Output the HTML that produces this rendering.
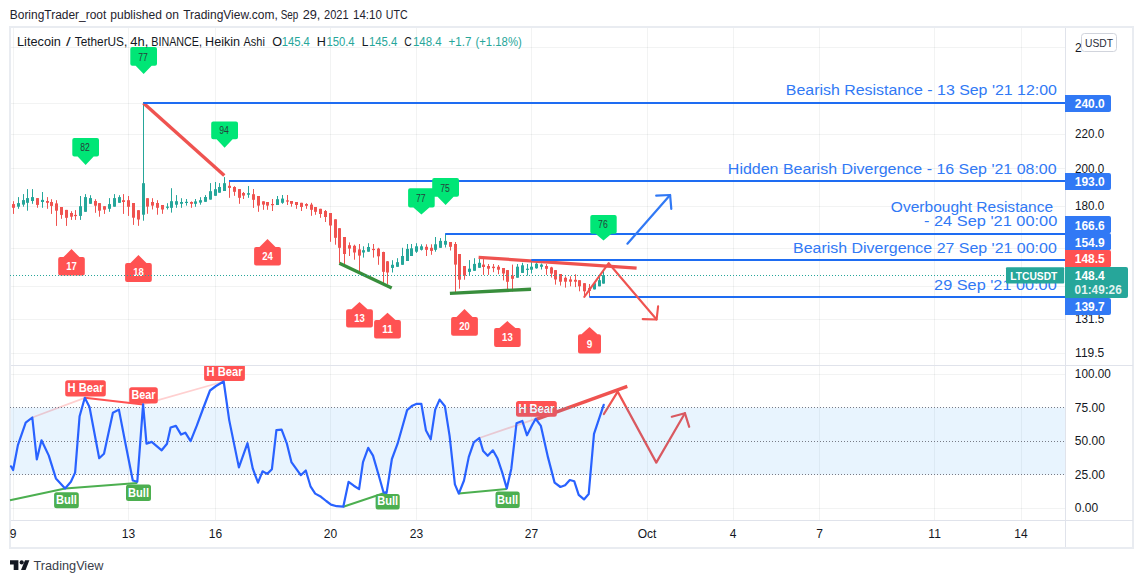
<!DOCTYPE html>
<html><head><meta charset="utf-8"><style>
html,body{margin:0;padding:0;background:#fff;width:1143px;height:583px;overflow:hidden}
svg{display:block;font-family:"Liberation Sans", sans-serif}
</style></head><body>
<svg width="1143" height="583" viewBox="0 0 1143 583">
<rect x="0" y="0" width="1143" height="583" fill="#fff"/>
<line x1="13.5" y1="28" x2="13.5" y2="520" stroke="rgba(42,57,57,0.06)" stroke-width="1" />
<line x1="128.5" y1="28" x2="128.5" y2="520" stroke="rgba(42,57,57,0.06)" stroke-width="1" />
<line x1="215.5" y1="28" x2="215.5" y2="520" stroke="rgba(42,57,57,0.06)" stroke-width="1" />
<line x1="330.5" y1="28" x2="330.5" y2="520" stroke="rgba(42,57,57,0.06)" stroke-width="1" />
<line x1="416.5" y1="28" x2="416.5" y2="520" stroke="rgba(42,57,57,0.06)" stroke-width="1" />
<line x1="531.5" y1="28" x2="531.5" y2="520" stroke="rgba(42,57,57,0.06)" stroke-width="1" />
<line x1="647.5" y1="28" x2="647.5" y2="520" stroke="rgba(42,57,57,0.06)" stroke-width="1" />
<line x1="733.5" y1="28" x2="733.5" y2="520" stroke="rgba(42,57,57,0.06)" stroke-width="1" />
<line x1="819.5" y1="28" x2="819.5" y2="520" stroke="rgba(42,57,57,0.06)" stroke-width="1" />
<line x1="934.5" y1="28" x2="934.5" y2="520" stroke="rgba(42,57,57,0.06)" stroke-width="1" />
<line x1="1021.5" y1="28" x2="1021.5" y2="520" stroke="rgba(42,57,57,0.06)" stroke-width="1" />
<line x1="11" y1="47.5" x2="1065" y2="47.5" stroke="rgba(42,57,57,0.06)" stroke-width="1" />
<line x1="11" y1="103.5" x2="1065" y2="103.5" stroke="rgba(42,57,57,0.06)" stroke-width="1" />
<line x1="11" y1="134.5" x2="1065" y2="134.5" stroke="rgba(42,57,57,0.06)" stroke-width="1" />
<line x1="11" y1="168.5" x2="1065" y2="168.5" stroke="rgba(42,57,57,0.06)" stroke-width="1" />
<line x1="11" y1="206.5" x2="1065" y2="206.5" stroke="rgba(42,57,57,0.06)" stroke-width="1" />
<line x1="11" y1="248.5" x2="1065" y2="248.5" stroke="rgba(42,57,57,0.06)" stroke-width="1" />
<line x1="11" y1="286.5" x2="1065" y2="286.5" stroke="rgba(42,57,57,0.06)" stroke-width="1" />
<line x1="11" y1="319.5" x2="1065" y2="319.5" stroke="rgba(42,57,57,0.06)" stroke-width="1" />
<line x1="11" y1="353.5" x2="1065" y2="353.5" stroke="rgba(42,57,57,0.06)" stroke-width="1" />
<line x1="11" y1="374.5" x2="1065" y2="374.5" stroke="rgba(42,57,57,0.06)" stroke-width="1" />
<line x1="11" y1="508.5" x2="1065" y2="508.5" stroke="rgba(42,57,57,0.06)" stroke-width="1" />
<rect x="10" y="27" width="1123" height="521" fill="none" stroke="#e9ecf1" stroke-width="2"/>
<line x1="1065.5" y1="28" x2="1065.5" y2="547" stroke="#e0e3eb" stroke-width="1" />
<line x1="11" y1="365.5" x2="1133" y2="365.5" stroke="#e0e3eb" stroke-width="1" />
<line x1="11" y1="520.5" x2="1133" y2="520.5" stroke="#e0e3eb" stroke-width="1" />
<text x="9.81" y="19" font-size="12" fill="#1e222d" text-anchor="start" textLength="96.43" lengthAdjust="spacingAndGlyphs" >BoringTrader_root</text>
<text x="110.25" y="19" font-size="12" fill="#1e222d" text-anchor="start" textLength="51.58" lengthAdjust="spacingAndGlyphs" >published</text>
<text x="165.6" y="19" font-size="12" fill="#1e222d" text-anchor="start" textLength="13.41" lengthAdjust="spacingAndGlyphs" >on</text>
<text x="183.15" y="19" font-size="12" fill="#1e222d" text-anchor="start" textLength="94.62" lengthAdjust="spacingAndGlyphs" >TradingView.com,</text>
<text x="280.69" y="19" font-size="12" fill="#1e222d" text-anchor="start" textLength="17.61" lengthAdjust="spacingAndGlyphs" >Sep</text>
<text x="302.67" y="19" font-size="12" fill="#1e222d" text-anchor="start" textLength="17.73" lengthAdjust="spacingAndGlyphs" >29,</text>
<text x="324.04" y="19" font-size="12" fill="#1e222d" text-anchor="start" textLength="24.58" lengthAdjust="spacingAndGlyphs" >2021</text>
<text x="352.98" y="19" font-size="12" fill="#1e222d" text-anchor="start" textLength="28.89" lengthAdjust="spacingAndGlyphs" >14:10</text>
<text x="385.84" y="19" font-size="12" fill="#1e222d" text-anchor="start" textLength="21.84" lengthAdjust="spacingAndGlyphs" >UTC</text>
<rect x="13.0" y="201.2" width="1" height="12.7" fill="#ef5350"/>
<rect x="12.0" y="204.1" width="3" height="3.7" fill="#ef5350"/>
<rect x="18.0" y="197.1" width="1" height="11.7" fill="#26a69a"/>
<rect x="17.0" y="203.1" width="3" height="3.6" fill="#26a69a"/>
<rect x="23.0" y="194.1" width="1" height="12.6" fill="#26a69a"/>
<rect x="22.0" y="200.1" width="3" height="4.5" fill="#26a69a"/>
<rect x="27.0" y="189.1" width="1" height="21.6" fill="#26a69a"/>
<rect x="26.0" y="198.1" width="3" height="4.7" fill="#26a69a"/>
<rect x="32.0" y="189.1" width="1" height="14.7" fill="#26a69a"/>
<rect x="31.0" y="197.1" width="3" height="3.9" fill="#26a69a"/>
<rect x="37.0" y="198.1" width="1" height="9.7" fill="#ef5350"/>
<rect x="36.0" y="198.1" width="3" height="6.8" fill="#ef5350"/>
<rect x="42.0" y="192.0" width="1" height="15.8" fill="#26a69a"/>
<rect x="41.0" y="199.9" width="3" height="2.1" fill="#26a69a"/>
<rect x="47.0" y="197.1" width="1" height="11.7" fill="#ef5350"/>
<rect x="46.0" y="201.0" width="3" height="1.8" fill="#ef5350"/>
<rect x="51.0" y="199.2" width="1" height="14.7" fill="#ef5350"/>
<rect x="50.0" y="202.0" width="3" height="3.9" fill="#ef5350"/>
<rect x="56.0" y="200.2" width="1" height="25.7" fill="#ef5350"/>
<rect x="55.0" y="203.4" width="3" height="7.3" fill="#ef5350"/>
<rect x="61.0" y="207.0" width="1" height="11.8" fill="#ef5350"/>
<rect x="60.0" y="207.0" width="3" height="7.9" fill="#ef5350"/>
<rect x="66.0" y="209.9" width="1" height="16.0" fill="#ef5350"/>
<rect x="65.0" y="209.9" width="3" height="7.9" fill="#ef5350"/>
<rect x="71.0" y="211.2" width="1" height="8.7" fill="#ef5350"/>
<rect x="70.0" y="213.0" width="3" height="3.7" fill="#ef5350"/>
<rect x="75.0" y="210.1" width="1" height="9.8" fill="#ef5350"/>
<rect x="74.0" y="214.9" width="3" height="1.2" fill="#ef5350"/>
<rect x="80.0" y="196.0" width="1" height="23.9" fill="#26a69a"/>
<rect x="79.0" y="206.2" width="3" height="9.7" fill="#26a69a"/>
<rect x="85.0" y="194.1" width="1" height="17.7" fill="#26a69a"/>
<rect x="84.0" y="197.1" width="3" height="14.7" fill="#26a69a"/>
<rect x="90.0" y="195.2" width="1" height="8.6" fill="#26a69a"/>
<rect x="89.0" y="198.1" width="3" height="5.7" fill="#26a69a"/>
<rect x="95.0" y="199.2" width="1" height="13.6" fill="#ef5350"/>
<rect x="94.0" y="201.0" width="3" height="4.7" fill="#ef5350"/>
<rect x="99.0" y="203.1" width="1" height="13.6" fill="#ef5350"/>
<rect x="98.0" y="203.1" width="3" height="7.6" fill="#ef5350"/>
<rect x="104.0" y="206.2" width="1" height="7.7" fill="#ef5350"/>
<rect x="103.0" y="206.2" width="3" height="3.5" fill="#ef5350"/>
<rect x="109.0" y="198.1" width="1" height="13.7" fill="#26a69a"/>
<rect x="108.0" y="204.1" width="3" height="4.7" fill="#26a69a"/>
<rect x="114.0" y="194.1" width="1" height="12.6" fill="#26a69a"/>
<rect x="113.0" y="198.1" width="3" height="8.6" fill="#26a69a"/>
<rect x="119.0" y="195.2" width="1" height="7.6" fill="#26a69a"/>
<rect x="118.0" y="197.1" width="3" height="5.7" fill="#26a69a"/>
<rect x="123.0" y="194.1" width="1" height="19.8" fill="#ef5350"/>
<rect x="122.0" y="200.2" width="3" height="1.8" fill="#ef5350"/>
<rect x="128.0" y="196.0" width="1" height="19.9" fill="#ef5350"/>
<rect x="127.0" y="200.2" width="3" height="6.6" fill="#ef5350"/>
<rect x="133.0" y="203.0" width="1" height="21.9" fill="#ef5350"/>
<rect x="132.0" y="203.0" width="3" height="14.7" fill="#ef5350"/>
<rect x="138.0" y="210.2" width="1" height="15.6" fill="#ef5350"/>
<rect x="137.0" y="210.2" width="3" height="9.3" fill="#ef5350"/>
<rect x="143.0" y="102.0" width="1" height="118.7" fill="#26a69a"/>
<rect x="142.0" y="183.2" width="3" height="31.5" fill="#26a69a"/>
<rect x="147.0" y="198.2" width="1" height="15.6" fill="#ef5350"/>
<rect x="146.0" y="198.2" width="3" height="8.4" fill="#ef5350"/>
<rect x="152.0" y="198.2" width="1" height="11.3" fill="#ef5350"/>
<rect x="151.0" y="202.0" width="3" height="3.6" fill="#ef5350"/>
<rect x="157.0" y="200.2" width="1" height="14.5" fill="#ef5350"/>
<rect x="156.0" y="203.0" width="3" height="4.8" fill="#ef5350"/>
<rect x="162.0" y="205.0" width="1" height="8.8" fill="#ef5350"/>
<rect x="161.0" y="205.0" width="3" height="4.5" fill="#ef5350"/>
<rect x="167.0" y="203.2" width="1" height="6.3" fill="#26a69a"/>
<rect x="166.0" y="206.6" width="3" height="1.2" fill="#26a69a"/>
<rect x="171.0" y="188.2" width="1" height="24.4" fill="#26a69a"/>
<rect x="170.0" y="201.2" width="3" height="6.6" fill="#26a69a"/>
<rect x="176.0" y="195.1" width="1" height="12.7" fill="#26a69a"/>
<rect x="175.0" y="201.2" width="3" height="3.5" fill="#26a69a"/>
<rect x="181.0" y="198.2" width="1" height="9.6" fill="#26a69a"/>
<rect x="180.0" y="202.0" width="3" height="1.8" fill="#26a69a"/>
<rect x="186.0" y="199.0" width="1" height="6.6" fill="#26a69a"/>
<rect x="185.0" y="201.8" width="3" height="1.2" fill="#26a69a"/>
<rect x="191.0" y="201.4" width="1" height="6.4" fill="#ef5350"/>
<rect x="190.0" y="202.0" width="3" height="1.8" fill="#ef5350"/>
<rect x="195.0" y="199.0" width="1" height="7.8" fill="#26a69a"/>
<rect x="194.0" y="201.4" width="3" height="2.4" fill="#26a69a"/>
<rect x="200.0" y="197.2" width="1" height="7.5" fill="#26a69a"/>
<rect x="199.0" y="200.2" width="3" height="2.4" fill="#26a69a"/>
<rect x="205.0" y="195.1" width="1" height="6.7" fill="#26a69a"/>
<rect x="204.0" y="197.0" width="3" height="4.8" fill="#26a69a"/>
<rect x="210.0" y="183.1" width="1" height="16.5" fill="#26a69a"/>
<rect x="209.0" y="191.2" width="3" height="8.4" fill="#26a69a"/>
<rect x="215.0" y="182.0" width="1" height="13.8" fill="#26a69a"/>
<rect x="214.0" y="189.2" width="3" height="6.6" fill="#26a69a"/>
<rect x="219.0" y="183.1" width="1" height="9.6" fill="#26a69a"/>
<rect x="218.0" y="187.0" width="3" height="5.7" fill="#26a69a"/>
<rect x="224.0" y="177.1" width="1" height="13.9" fill="#26a69a"/>
<rect x="223.0" y="183.2" width="3" height="7.8" fill="#26a69a"/>
<rect x="229.0" y="181.0" width="1" height="16.8" fill="#ef5350"/>
<rect x="228.0" y="185.8" width="3" height="2.1" fill="#ef5350"/>
<rect x="234.0" y="186.2" width="1" height="9.6" fill="#ef5350"/>
<rect x="233.0" y="187.0" width="3" height="4.8" fill="#ef5350"/>
<rect x="239.0" y="189.1" width="1" height="14.7" fill="#ef5350"/>
<rect x="238.0" y="189.1" width="3" height="8.7" fill="#ef5350"/>
<rect x="243.0" y="192.0" width="1" height="7.0" fill="#ef5350"/>
<rect x="242.0" y="193.0" width="3" height="2.6" fill="#ef5350"/>
<rect x="248.0" y="186.0" width="1" height="11.8" fill="#26a69a"/>
<rect x="247.0" y="193.2" width="3" height="1.5" fill="#26a69a"/>
<rect x="253.0" y="189.0" width="1" height="18.9" fill="#ef5350"/>
<rect x="252.0" y="194.2" width="3" height="5.6" fill="#ef5350"/>
<rect x="258.0" y="196.0" width="1" height="15.8" fill="#ef5350"/>
<rect x="257.0" y="196.0" width="3" height="9.6" fill="#ef5350"/>
<rect x="263.0" y="201.3" width="1" height="8.5" fill="#ef5350"/>
<rect x="262.0" y="201.3" width="3" height="3.3" fill="#ef5350"/>
<rect x="267.0" y="202.0" width="1" height="7.8" fill="#ef5350"/>
<rect x="266.0" y="202.0" width="3" height="3.6" fill="#ef5350"/>
<rect x="272.0" y="199.0" width="1" height="12.0" fill="#ef5350"/>
<rect x="271.0" y="204.0" width="3" height="1.2" fill="#ef5350"/>
<rect x="277.0" y="196.0" width="1" height="9.0" fill="#26a69a"/>
<rect x="276.0" y="199.2" width="3" height="5.8" fill="#26a69a"/>
<rect x="282.0" y="195.0" width="1" height="8.8" fill="#26a69a"/>
<rect x="281.0" y="198.6" width="3" height="4.2" fill="#26a69a"/>
<rect x="287.0" y="195.0" width="1" height="10.0" fill="#ef5350"/>
<rect x="286.0" y="200.4" width="3" height="1.2" fill="#ef5350"/>
<rect x="291.0" y="201.0" width="1" height="5.7" fill="#ef5350"/>
<rect x="290.0" y="201.0" width="3" height="2.8" fill="#ef5350"/>
<rect x="296.0" y="202.0" width="1" height="6.8" fill="#ef5350"/>
<rect x="295.0" y="202.0" width="3" height="3.0" fill="#ef5350"/>
<rect x="301.0" y="202.8" width="1" height="8.2" fill="#ef5350"/>
<rect x="300.0" y="202.8" width="3" height="4.2" fill="#ef5350"/>
<rect x="306.0" y="203.2" width="1" height="5.6" fill="#ef5350"/>
<rect x="305.0" y="204.0" width="3" height="1.8" fill="#ef5350"/>
<rect x="311.0" y="202.8" width="1" height="13.0" fill="#ef5350"/>
<rect x="310.0" y="204.6" width="3" height="5.2" fill="#ef5350"/>
<rect x="315.0" y="207.0" width="1" height="7.8" fill="#ef5350"/>
<rect x="314.0" y="207.0" width="3" height="4.8" fill="#ef5350"/>
<rect x="320.0" y="208.8" width="1" height="9.0" fill="#ef5350"/>
<rect x="319.0" y="208.8" width="3" height="5.2" fill="#ef5350"/>
<rect x="325.0" y="210.0" width="1" height="12.0" fill="#ef5350"/>
<rect x="324.0" y="211.0" width="3" height="6.0" fill="#ef5350"/>
<rect x="330.0" y="213.0" width="1" height="28.8" fill="#ef5350"/>
<rect x="329.0" y="213.0" width="3" height="12.5" fill="#ef5350"/>
<rect x="335.0" y="219.3" width="1" height="25.4" fill="#ef5350"/>
<rect x="334.0" y="219.3" width="3" height="18.5" fill="#ef5350"/>
<rect x="339.0" y="228.2" width="1" height="35.1" fill="#ef5350"/>
<rect x="338.0" y="228.2" width="3" height="19.6" fill="#ef5350"/>
<rect x="344.0" y="237.0" width="1" height="27.0" fill="#ef5350"/>
<rect x="343.0" y="237.0" width="3" height="17.0" fill="#ef5350"/>
<rect x="349.0" y="242.4" width="1" height="13.6" fill="#ef5350"/>
<rect x="348.0" y="245.2" width="3" height="3.4" fill="#ef5350"/>
<rect x="354.0" y="244.7" width="1" height="15.0" fill="#ef5350"/>
<rect x="353.0" y="245.8" width="3" height="6.7" fill="#ef5350"/>
<rect x="359.0" y="244.0" width="1" height="28.5" fill="#ef5350"/>
<rect x="358.0" y="249.4" width="3" height="6.2" fill="#ef5350"/>
<rect x="363.0" y="246.3" width="1" height="11.3" fill="#26a69a"/>
<rect x="362.0" y="250.2" width="3" height="2.3" fill="#26a69a"/>
<rect x="368.0" y="243.2" width="1" height="8.5" fill="#26a69a"/>
<rect x="367.0" y="247.0" width="3" height="4.7" fill="#26a69a"/>
<rect x="373.0" y="244.0" width="1" height="13.6" fill="#ef5350"/>
<rect x="372.0" y="248.9" width="3" height="1.2" fill="#ef5350"/>
<rect x="378.0" y="247.8" width="1" height="17.0" fill="#ef5350"/>
<rect x="377.0" y="248.6" width="3" height="7.7" fill="#ef5350"/>
<rect x="383.0" y="251.7" width="1" height="33.2" fill="#ef5350"/>
<rect x="382.0" y="252.0" width="3" height="19.8" fill="#ef5350"/>
<rect x="387.0" y="261.0" width="1" height="23.1" fill="#ef5350"/>
<rect x="386.0" y="261.3" width="3" height="11.2" fill="#ef5350"/>
<rect x="392.0" y="260.2" width="1" height="12.3" fill="#26a69a"/>
<rect x="391.0" y="264.8" width="3" height="3.1" fill="#26a69a"/>
<rect x="397.0" y="258.2" width="1" height="8.6" fill="#26a69a"/>
<rect x="396.0" y="262.2" width="3" height="4.6" fill="#26a69a"/>
<rect x="402.0" y="247.8" width="1" height="17.0" fill="#26a69a"/>
<rect x="401.0" y="256.0" width="3" height="8.8" fill="#26a69a"/>
<rect x="407.0" y="244.0" width="1" height="17.0" fill="#26a69a"/>
<rect x="406.0" y="248.9" width="3" height="12.1" fill="#26a69a"/>
<rect x="411.0" y="244.0" width="1" height="12.0" fill="#26a69a"/>
<rect x="410.0" y="248.3" width="3" height="7.7" fill="#26a69a"/>
<rect x="416.0" y="243.2" width="1" height="9.7" fill="#26a69a"/>
<rect x="415.0" y="246.3" width="3" height="5.4" fill="#26a69a"/>
<rect x="421.0" y="244.3" width="1" height="6.2" fill="#26a69a"/>
<rect x="420.0" y="246.3" width="3" height="3.5" fill="#26a69a"/>
<rect x="426.0" y="244.3" width="1" height="11.7" fill="#ef5350"/>
<rect x="425.0" y="246.8" width="3" height="3.0" fill="#ef5350"/>
<rect x="431.0" y="244.3" width="1" height="10.5" fill="#ef5350"/>
<rect x="430.0" y="247.8" width="3" height="3.1" fill="#ef5350"/>
<rect x="435.0" y="237.0" width="1" height="14.7" fill="#26a69a"/>
<rect x="434.0" y="244.3" width="3" height="5.5" fill="#26a69a"/>
<rect x="440.0" y="238.1" width="1" height="9.7" fill="#26a69a"/>
<rect x="439.0" y="240.9" width="3" height="6.9" fill="#26a69a"/>
<rect x="445.0" y="233.7" width="1" height="13.8" fill="#26a69a"/>
<rect x="444.0" y="240.9" width="3" height="3.8" fill="#26a69a"/>
<rect x="450.0" y="242.0" width="1" height="8.5" fill="#ef5350"/>
<rect x="449.0" y="242.0" width="3" height="4.8" fill="#ef5350"/>
<rect x="455.0" y="242.0" width="1" height="50.8" fill="#ef5350"/>
<rect x="454.0" y="244.0" width="3" height="20.6" fill="#ef5350"/>
<rect x="459.0" y="254.0" width="1" height="34.7" fill="#ef5350"/>
<rect x="458.0" y="254.0" width="3" height="25.7" fill="#ef5350"/>
<rect x="464.0" y="266.0" width="1" height="13.7" fill="#ef5350"/>
<rect x="463.0" y="266.0" width="3" height="9.6" fill="#ef5350"/>
<rect x="469.0" y="260.1" width="1" height="15.5" fill="#26a69a"/>
<rect x="468.0" y="268.7" width="3" height="3.2" fill="#26a69a"/>
<rect x="474.0" y="258.2" width="1" height="12.6" fill="#26a69a"/>
<rect x="473.0" y="263.9" width="3" height="6.9" fill="#26a69a"/>
<rect x="479.0" y="258.2" width="1" height="9.6" fill="#26a69a"/>
<rect x="478.0" y="262.8" width="3" height="5.0" fill="#26a69a"/>
<rect x="483.0" y="259.1" width="1" height="15.8" fill="#ef5350"/>
<rect x="482.0" y="264.6" width="3" height="2.4" fill="#ef5350"/>
<rect x="488.0" y="264.0" width="1" height="10.9" fill="#ef5350"/>
<rect x="487.0" y="266.0" width="3" height="2.7" fill="#ef5350"/>
<rect x="493.0" y="264.0" width="1" height="8.2" fill="#ef5350"/>
<rect x="492.0" y="266.7" width="3" height="1.4" fill="#ef5350"/>
<rect x="498.0" y="265.0" width="1" height="9.2" fill="#ef5350"/>
<rect x="497.0" y="266.7" width="3" height="3.0" fill="#ef5350"/>
<rect x="503.0" y="268.0" width="1" height="12.4" fill="#ef5350"/>
<rect x="502.0" y="268.0" width="3" height="5.5" fill="#ef5350"/>
<rect x="507.0" y="270.1" width="1" height="21.3" fill="#ef5350"/>
<rect x="506.0" y="270.1" width="3" height="11.7" fill="#ef5350"/>
<rect x="512.0" y="264.6" width="1" height="26.8" fill="#ef5350"/>
<rect x="511.0" y="275.6" width="3" height="3.2" fill="#ef5350"/>
<rect x="517.0" y="264.0" width="1" height="13.7" fill="#26a69a"/>
<rect x="516.0" y="266.7" width="3" height="11.0" fill="#26a69a"/>
<rect x="522.0" y="262.8" width="1" height="10.1" fill="#26a69a"/>
<rect x="521.0" y="265.3" width="3" height="7.6" fill="#26a69a"/>
<rect x="527.0" y="264.0" width="1" height="11.6" fill="#26a69a"/>
<rect x="526.0" y="268.7" width="3" height="1.2" fill="#26a69a"/>
<rect x="531.0" y="259.8" width="1" height="13.7" fill="#26a69a"/>
<rect x="530.0" y="266.7" width="3" height="3.0" fill="#26a69a"/>
<rect x="536.0" y="261.9" width="1" height="6.8" fill="#26a69a"/>
<rect x="535.0" y="263.7" width="3" height="4.6" fill="#26a69a"/>
<rect x="541.0" y="263.5" width="1" height="6.0" fill="#26a69a"/>
<rect x="540.0" y="264.6" width="3" height="2.2" fill="#26a69a"/>
<rect x="546.0" y="264.1" width="1" height="10.7" fill="#ef5350"/>
<rect x="545.0" y="266.0" width="3" height="2.8" fill="#ef5350"/>
<rect x="551.0" y="266.8" width="1" height="10.7" fill="#ef5350"/>
<rect x="550.0" y="267.4" width="3" height="6.2" fill="#ef5350"/>
<rect x="555.0" y="270.1" width="1" height="14.5" fill="#ef5350"/>
<rect x="554.0" y="270.1" width="3" height="9.4" fill="#ef5350"/>
<rect x="560.0" y="274.0" width="1" height="11.6" fill="#ef5350"/>
<rect x="559.0" y="274.0" width="3" height="7.7" fill="#ef5350"/>
<rect x="565.0" y="276.3" width="1" height="11.3" fill="#ef5350"/>
<rect x="564.0" y="277.8" width="3" height="3.9" fill="#ef5350"/>
<rect x="570.0" y="276.3" width="1" height="10.0" fill="#ef5350"/>
<rect x="569.0" y="279.4" width="3" height="2.3" fill="#ef5350"/>
<rect x="575.0" y="274.3" width="1" height="12.8" fill="#ef5350"/>
<rect x="574.0" y="279.8" width="3" height="1.9" fill="#ef5350"/>
<rect x="579.0" y="280.2" width="1" height="11.1" fill="#ef5350"/>
<rect x="578.0" y="280.2" width="3" height="6.1" fill="#ef5350"/>
<rect x="584.0" y="283.2" width="1" height="13.2" fill="#ef5350"/>
<rect x="583.0" y="283.2" width="3" height="8.1" fill="#ef5350"/>
<rect x="589.0" y="284.0" width="1" height="13.1" fill="#ef5350"/>
<rect x="588.0" y="287.9" width="3" height="3.1" fill="#ef5350"/>
<rect x="594.0" y="283.2" width="1" height="6.2" fill="#26a69a"/>
<rect x="593.0" y="283.2" width="3" height="6.2" fill="#26a69a"/>
<rect x="599.0" y="275.2" width="1" height="11.1" fill="#26a69a"/>
<rect x="598.0" y="280.2" width="3" height="6.1" fill="#26a69a"/>
<rect x="603.0" y="270.1" width="1" height="13.5" fill="#26a69a"/>
<rect x="602.0" y="275.2" width="3" height="8.4" fill="#26a69a"/>
<line x1="143.4" y1="102.9" x2="224.3" y2="175.4" stroke="#ef5350" stroke-width="3.4" />
<line x1="478.6" y1="257.3" x2="636.6" y2="268.1" stroke="#ef5350" stroke-width="3.3" />
<line x1="143.4" y1="103" x2="1065" y2="103" stroke="#1e6cf2" stroke-width="2" />
<line x1="229" y1="181" x2="1065" y2="181" stroke="#1e6cf2" stroke-width="2" />
<line x1="445.2" y1="234" x2="1065" y2="234" stroke="#1e6cf2" stroke-width="2" />
<line x1="531.3" y1="260" x2="1065" y2="260" stroke="#1e6cf2" stroke-width="2" />
<line x1="589.4" y1="297" x2="1065" y2="297" stroke="#1e6cf2" stroke-width="2" />
<line x1="339.4" y1="263.3" x2="391.7" y2="288" stroke="#388e3c" stroke-width="3.4" />
<line x1="449.9" y1="293.4" x2="531" y2="289.2" stroke="#388e3c" stroke-width="3.4" />
<polyline points="584.3,296.8 608.7,263.2 656.6,319.5" fill="none" stroke="#ef5350" stroke-width="2.1" stroke-linejoin="round" stroke-linecap="round" />
<polyline points="642.7,319.1 656.6,319.5 658.1,306.4" fill="none" stroke="#ef5350" stroke-width="2.1" stroke-linejoin="round" stroke-linecap="round" />
<polyline points="627.4,243.7 670.1,195.0" fill="none" stroke="#3179f5" stroke-width="2.2" stroke-linejoin="round" stroke-linecap="round" />
<polyline points="656.2,195.6 670.1,195.0 671.3,208.8" fill="none" stroke="#3179f5" stroke-width="2.2" stroke-linejoin="round" stroke-linecap="round" />
<text x="785.86" y="95" font-size="14" fill="#3179f5" text-anchor="start" textLength="271.0" lengthAdjust="spacingAndGlyphs" >Bearish Resistance - 13 Sep '21 12:00</text>
<text x="727.86" y="174" font-size="14" fill="#3179f5" text-anchor="start" textLength="328.78" lengthAdjust="spacingAndGlyphs" >Hidden Bearish Divergence - 16 Sep '21 08:00</text>
<text x="890.85" y="212" font-size="14" fill="#3179f5" text-anchor="start" textLength="162.28" lengthAdjust="spacingAndGlyphs" >Overbought Resistance</text>
<text x="924.02" y="226.3" font-size="14" fill="#3179f5" text-anchor="start" textLength="133.25" lengthAdjust="spacingAndGlyphs" >- 24 Sep '21 00:00</text>
<text x="793.06" y="252.8" font-size="14" fill="#3179f5" text-anchor="start" textLength="263.71" lengthAdjust="spacingAndGlyphs" >Bearish Divergence 27 Sep '21 00:00</text>
<text x="934.13" y="289.7" font-size="14" fill="#3179f5" text-anchor="start" textLength="122.58" lengthAdjust="spacingAndGlyphs" >29 Sep '21 00:00</text>
<path d="M132.3,47.1 H155 Q157,47.1 157,49.1 V63.7 Q157,65.7 155,65.7 H151.65 L143.65,73.9 L135.65,65.7 H132.3 Q130.3,65.7 130.3,63.7 V49.1 Q130.3,47.1 132.3,47.1 Z" fill="#00e676"/>
<text x="143.05" y="60.50000000000001" font-size="10" fill="#26403a" text-anchor="middle" textLength="9.6" lengthAdjust="spacingAndGlyphs" >77</text>
<path d="M74.3,138.1 H97 Q99,138.1 99,140.1 V154.4 Q99,156.4 97,156.4 H93.65 L85.65,164.9 L77.65,156.4 H74.3 Q72.3,156.4 72.3,154.4 V140.1 Q72.3,138.1 74.3,138.1 Z" fill="#00e676"/>
<text x="85.05000000000001" y="151.35" font-size="10" fill="#26403a" text-anchor="middle" textLength="9.6" lengthAdjust="spacingAndGlyphs" >82</text>
<path d="M213.2,121.4 H236 Q238,121.4 238,123.4 V137.3 Q238,139.3 236,139.3 H232.6 L224.6,147.7 L216.6,139.3 H213.2 Q211.2,139.3 211.2,137.3 V123.4 Q211.2,121.4 213.2,121.4 Z" fill="#00e676"/>
<text x="224.0" y="134.45000000000002" font-size="10" fill="#26403a" text-anchor="middle" textLength="9.6" lengthAdjust="spacingAndGlyphs" >94</text>
<path d="M410.1,188.2 H432.7 Q434.7,188.2 434.7,190.2 V205.6 Q434.7,207.6 432.7,207.6 H429.4 L421.4,214.6 L413.4,207.6 H410.1 Q408.1,207.6 408.1,205.6 V190.2 Q408.1,188.2 410.1,188.2 Z" fill="#00e676"/>
<text x="420.79999999999995" y="201.99999999999997" font-size="10" fill="#26403a" text-anchor="middle" textLength="9.6" lengthAdjust="spacingAndGlyphs" >77</text>
<path d="M434.2,178.1 H457 Q459,178.1 459,180.1 V194.8 Q459,196.8 457,196.8 H453.6 L445.6,205 L437.6,196.8 H434.2 Q432.2,196.8 432.2,194.8 V180.1 Q432.2,178.1 434.2,178.1 Z" fill="#00e676"/>
<text x="445.0" y="191.54999999999998" font-size="10" fill="#26403a" text-anchor="middle" textLength="9.6" lengthAdjust="spacingAndGlyphs" >75</text>
<path d="M592.3,214.9 H614.7 Q616.7,214.9 616.7,216.9 V231.8 Q616.7,233.8 614.7,233.8 H611.5 L603.5,240.6 L595.5,233.8 H592.3 Q590.3,233.8 590.3,231.8 V216.9 Q590.3,214.9 592.3,214.9 Z" fill="#00e676"/>
<text x="602.9" y="228.45000000000002" font-size="10" fill="#26403a" text-anchor="middle" textLength="9.6" lengthAdjust="spacingAndGlyphs" >76</text>
<path d="M60.2,275.6 H82.8 Q84.8,275.6 84.8,273.6 V259.1 Q84.8,257.1 82.8,257.1 H79.5 L71.5,249.1 L63.5,257.1 H60.2 Q58.2,257.1 58.2,259.1 V273.6 Q58.2,275.6 60.2,275.6 Z" fill="#ff5252"/>
<text x="71.5" y="270.05" font-size="10" fill="#ffffff" text-anchor="middle" font-weight="bold" textLength="10.6" lengthAdjust="spacingAndGlyphs" >17</text>
<path d="M127.1,281.9 H149.8 Q151.8,281.9 151.8,279.9 V265.1 Q151.8,263.1 149.8,263.1 H146.45 L138.45,254.9 L130.45,263.1 H127.1 Q125.1,263.1 125.1,265.1 V279.9 Q125.1,281.9 127.1,281.9 Z" fill="#ff5252"/>
<text x="138.45" y="276.2" font-size="10" fill="#ffffff" text-anchor="middle" font-weight="bold" textLength="10.6" lengthAdjust="spacingAndGlyphs" >18</text>
<path d="M256.1,265.6 H278.9 Q280.9,265.6 280.9,263.6 V249.1 Q280.9,247.1 278.9,247.1 H275.5 L267.5,239 L259.5,247.1 H256.1 Q254.1,247.1 254.1,249.1 V263.6 Q254.1,265.6 256.1,265.6 Z" fill="#ff5252"/>
<text x="267.5" y="260.05" font-size="10" fill="#ffffff" text-anchor="middle" font-weight="bold" textLength="10.6" lengthAdjust="spacingAndGlyphs" >24</text>
<path d="M348.1,327.6 H370.9 Q372.9,327.6 372.9,325.6 V311.2 Q372.9,309.2 370.9,309.2 H367.5 L359.5,301.9 L351.5,309.2 H348.1 Q346.1,309.2 346.1,311.2 V325.6 Q346.1,327.6 348.1,327.6 Z" fill="#ff5252"/>
<text x="359.5" y="322.09999999999997" font-size="10" fill="#ffffff" text-anchor="middle" font-weight="bold" textLength="10.6" lengthAdjust="spacingAndGlyphs" >13</text>
<path d="M376.1,338.6 H398.9 Q400.9,338.6 400.9,336.6 V322.1 Q400.9,320.1 398.9,320.1 H395.5 L387.5,312.7 L379.5,320.1 H376.1 Q374.1,320.1 374.1,322.1 V336.6 Q374.1,338.6 376.1,338.6 Z" fill="#ff5252"/>
<text x="387.5" y="333.05" font-size="10" fill="#ffffff" text-anchor="middle" font-weight="bold" textLength="10.6" lengthAdjust="spacingAndGlyphs" >11</text>
<path d="M453.1,335.8 H475.9 Q477.9,335.8 477.9,333.8 V319.1 Q477.9,317.1 475.9,317.1 H472.5 L464.5,308.9 L456.5,317.1 H453.1 Q451.1,317.1 451.1,319.1 V333.8 Q451.1,335.8 453.1,335.8 Z" fill="#ff5252"/>
<text x="464.5" y="330.15000000000003" font-size="10" fill="#ffffff" text-anchor="middle" font-weight="bold" textLength="10.6" lengthAdjust="spacingAndGlyphs" >20</text>
<path d="M496.1,346.9 H518.7 Q520.7,346.9 520.7,344.9 V330.1 Q520.7,328.1 518.7,328.1 H515.4000000000001 L507.40000000000003,321.1 L499.40000000000003,328.1 H496.1 Q494.1,328.1 494.1,330.1 V344.9 Q494.1,346.9 496.1,346.9 Z" fill="#ff5252"/>
<text x="507.40000000000003" y="341.2" font-size="10" fill="#ffffff" text-anchor="middle" font-weight="bold" textLength="10.6" lengthAdjust="spacingAndGlyphs" >13</text>
<path d="M580,353.5 H599 Q601,353.5 601,351.5 V336.3 Q601,334.3 599,334.3 H597.5 L589.5,327 L581.5,334.3 H580 Q578,334.3 578,336.3 V351.5 Q578,353.5 580,353.5 Z" fill="#ff5252"/>
<text x="589.5" y="347.59999999999997" font-size="10" fill="#ffffff" text-anchor="middle" font-weight="bold" >9</text>
<line x1="10" y1="275.5" x2="1006" y2="275.5" stroke="#26a69a" stroke-width="1" stroke-dasharray="1 2"/>
<text x="17.04" y="46" font-size="12" fill="#131722" text-anchor="start" textLength="43.93" lengthAdjust="spacingAndGlyphs" >Litecoin</text>
<text x="65.9" y="46" font-size="12" fill="#131722" text-anchor="start" textLength="4.68" lengthAdjust="spacingAndGlyphs" >/</text>
<text x="74.75" y="46" font-size="12" fill="#131722" text-anchor="start" textLength="52.54" lengthAdjust="spacingAndGlyphs" >TetherUS,</text>
<text x="130.23" y="46" font-size="12" fill="#131722" text-anchor="start" textLength="18.09" lengthAdjust="spacingAndGlyphs" >4h,</text>
<text x="151.31" y="46" font-size="12" fill="#131722" text-anchor="start" textLength="50.73" lengthAdjust="spacingAndGlyphs" >BINANCE,</text>
<text x="205.05" y="46" font-size="12" fill="#131722" text-anchor="start" textLength="35.09" lengthAdjust="spacingAndGlyphs" >Heikin</text>
<text x="243.5" y="46" font-size="12" fill="#131722" text-anchor="start" textLength="21.34" lengthAdjust="spacingAndGlyphs" >Ashi</text>
<text x="272.37" y="46" font-size="12" fill="#131722" text-anchor="start" textLength="9.85" lengthAdjust="spacingAndGlyphs" >O</text>
<text x="316.65" y="46" font-size="12" fill="#131722" text-anchor="start" textLength="9.12" lengthAdjust="spacingAndGlyphs" >H</text>
<text x="361.7" y="46" font-size="12" fill="#131722" text-anchor="start" textLength="6.69" lengthAdjust="spacingAndGlyphs" >L</text>
<text x="404.37" y="46" font-size="12" fill="#131722" text-anchor="start" textLength="7.5" lengthAdjust="spacingAndGlyphs" >C</text>
<text x="281.7" y="46" font-size="12" fill="#26a69a" text-anchor="start" textLength="28.17" lengthAdjust="spacingAndGlyphs" >145.4</text>
<text x="326.39" y="46" font-size="12" fill="#26a69a" text-anchor="start" textLength="28.27" lengthAdjust="spacingAndGlyphs" >150.4</text>
<text x="368.89" y="46" font-size="12" fill="#26a69a" text-anchor="start" textLength="28.48" lengthAdjust="spacingAndGlyphs" >145.4</text>
<text x="412.88" y="46" font-size="12" fill="#26a69a" text-anchor="start" textLength="28.69" lengthAdjust="spacingAndGlyphs" >148.4</text>
<text x="448.62" y="46" font-size="12" fill="#26a69a" text-anchor="start" textLength="22.82" lengthAdjust="spacingAndGlyphs" >+1.7</text>
<text x="475.49" y="46" font-size="12" fill="#26a69a" text-anchor="start" textLength="46.24" lengthAdjust="spacingAndGlyphs" >(+1.18%)</text>
<text x="1075" y="51.5" font-size="12" fill="#131722" text-anchor="start" >2</text>
<text x="1075.11" y="138" font-size="12" fill="#131722" text-anchor="start" textLength="29.16" lengthAdjust="spacingAndGlyphs" >220.0</text>
<text x="1075.11" y="172.5" font-size="12" fill="#131722" text-anchor="start" textLength="29.16" lengthAdjust="spacingAndGlyphs" >200.0</text>
<text x="1075.11" y="210" font-size="12" fill="#131722" text-anchor="start" textLength="29.16" lengthAdjust="spacingAndGlyphs" >180.0</text>
<text x="1075.11" y="322.5" font-size="12" fill="#131722" text-anchor="start" textLength="29.16" lengthAdjust="spacingAndGlyphs" >131.5</text>
<text x="1075.11" y="357" font-size="12" fill="#131722" text-anchor="start" textLength="29.16" lengthAdjust="spacingAndGlyphs" >119.5</text>
<rect x="1081.5" y="33.5" width="35" height="18" rx="3" fill="#fff" stroke="#d1d4dc" stroke-width="1"/>
<text x="1099" y="47" font-size="11" fill="#2a2e39" text-anchor="middle" textLength="28" lengthAdjust="spacingAndGlyphs" >USDT</text>
<path d="M1065,95 H1109 Q1111,95 1111,97 V110 Q1111,112 1109,112 H1065 Z" fill="#3179f5"/>
<text x="1074.75" y="108" font-size="12" fill="#fff" text-anchor="start" font-weight="bold" textLength="29.93" lengthAdjust="spacingAndGlyphs" >240.0</text>
<path d="M1065,173 H1109 Q1111,173 1111,175 V188 Q1111,190 1109,190 H1065 Z" fill="#3179f5"/>
<text x="1074.75" y="186" font-size="12" fill="#fff" text-anchor="start" font-weight="bold" textLength="29.93" lengthAdjust="spacingAndGlyphs" >193.0</text>
<path d="M1065,216 H1109 Q1111,216 1111,218 V231.2 Q1111,233.2 1109,233.2 H1065 Z" fill="#3179f5"/>
<text x="1074.75" y="229.5" font-size="12" fill="#fff" text-anchor="start" font-weight="bold" textLength="29.93" lengthAdjust="spacingAndGlyphs" >166.6</text>
<path d="M1065,233 H1109 Q1111,233 1111,235 V248.2 Q1111,250.2 1109,250.2 H1065 Z" fill="#3179f5"/>
<text x="1074.75" y="246.5" font-size="12" fill="#fff" text-anchor="start" font-weight="bold" textLength="29.93" lengthAdjust="spacingAndGlyphs" >154.9</text>
<path d="M1065,250 H1109 Q1111,250 1111,252 V265.2 Q1111,267.2 1109,267.2 H1065 Z" fill="#ff5252"/>
<text x="1074.75" y="263" font-size="12" fill="#fff" text-anchor="start" font-weight="bold" textLength="29.93" lengthAdjust="spacingAndGlyphs" >148.5</text>
<path d="M1065,267 H1126 Q1128,267 1128,269 V296 Q1128,298 1126,298 H1065 Z" fill="#26a69a"/>
<text x="1074.75" y="279.5" font-size="12" fill="#fff" text-anchor="start" font-weight="bold" textLength="29.93" lengthAdjust="spacingAndGlyphs" >148.4</text>
<text x="1074.61" y="294" font-size="12" fill="#e3f3f1" text-anchor="start" font-weight="bold" textLength="47.08" lengthAdjust="spacingAndGlyphs" >01:49:26</text>
<path d="M1065,298 H1109 Q1111,298 1111,300 V313 Q1111,315 1109,315 H1065 Z" fill="#3179f5"/>
<text x="1074.75" y="310.5" font-size="12" fill="#fff" text-anchor="start" font-weight="bold" textLength="29.93" lengthAdjust="spacingAndGlyphs" >139.7</text>
<rect x="1006" y="267.3" width="58.2" height="16.2" rx="1" fill="#26a69a"/>
<text x="1010.3" y="279.5" font-size="11" fill="#fff" text-anchor="start" font-weight="bold" textLength="47.01" lengthAdjust="spacingAndGlyphs" >LTCUSDT</text>
<line x1="32.3" y1="417.5" x2="84.8" y2="397.8" stroke="#ffd0d0" stroke-width="1.8" />
<line x1="84.8" y1="397.8" x2="143.1" y2="404.4" stroke="#ff5252" stroke-width="2" />
<line x1="143.1" y1="404.4" x2="223.7" y2="381.5" stroke="#ffd0d0" stroke-width="1.8" />
<line x1="479.3" y1="438" x2="535.7" y2="418.8" stroke="#ffd0d0" stroke-width="1.8" />
<line x1="10" y1="500.2" x2="65.1" y2="488.4" stroke="#4caf50" stroke-width="2" />
<line x1="65.1" y1="488.4" x2="137.3" y2="483.1" stroke="#4caf50" stroke-width="2" />
<line x1="343.3" y1="506.7" x2="386.6" y2="492.3" stroke="#4caf50" stroke-width="2" />
<line x1="458.8" y1="493.6" x2="506.8" y2="488.9" stroke="#4caf50" stroke-width="2" />
<line x1="535.4" y1="419.6" x2="627.3" y2="386.3" stroke="#ef5350" stroke-width="3.5" />
<polyline points="603.9,414.0 617.7,391.6 656.3,462.6 684.9,413.2" fill="none" stroke="#ef5350" stroke-width="2.2" stroke-linejoin="round" stroke-linecap="round" stroke-linecap="butt"/>
<polyline points="671.8,416.7 684.9,413.2 689.2,426.8" fill="none" stroke="#ef5350" stroke-width="2.2" stroke-linejoin="round" stroke-linecap="round" />
<rect x="65.2" y="380.2" width="40.599999999999994" height="16.400000000000034" rx="2.5" fill="#ff5252"/>
<text x="85.5" y="392.3" font-size="12" fill="#fff" text-anchor="middle" font-weight="bold" textLength="36" lengthAdjust="spacingAndGlyphs" >H Bear</text>
<rect x="129.2" y="387.3" width="28.600000000000023" height="16.30000000000001" rx="2.5" fill="#ff5252"/>
<text x="143.5" y="399.3" font-size="12" fill="#fff" text-anchor="middle" font-weight="bold" textLength="24" lengthAdjust="spacingAndGlyphs" >Bear</text>
<clipPath id="rc"><rect x="0" y="366" width="1143" height="200"/></clipPath>
<g clip-path="url(#rc)">
<rect x="204.1" y="364.4" width="40.80000000000001" height="16.600000000000023" rx="2.5" fill="#ff5252"/>
<text x="224.5" y="375.8" font-size="12" fill="#fff" text-anchor="middle" font-weight="bold" textLength="36" lengthAdjust="spacingAndGlyphs" >H Bear</text>
</g>
<rect x="516" y="401" width="40.799999999999955" height="15.800000000000011" rx="2.5" fill="#ff5252"/>
<text x="536.4" y="412.5" font-size="12" fill="#fff" text-anchor="middle" font-weight="bold" textLength="36" lengthAdjust="spacingAndGlyphs" >H Bear</text>
<rect x="54.1" y="492.3" width="24.699999999999996" height="15.899999999999977" rx="2.5" fill="#4caf50"/>
<text x="66.45" y="503.9" font-size="12" fill="#fff" text-anchor="middle" font-weight="bold" textLength="21" lengthAdjust="spacingAndGlyphs" >Bull</text>
<rect x="126" y="484.6" width="25" height="16.399999999999977" rx="2.5" fill="#4caf50"/>
<text x="138.5" y="496.7" font-size="12" fill="#fff" text-anchor="middle" font-weight="bold" textLength="21" lengthAdjust="spacingAndGlyphs" >Bull</text>
<rect x="375.6" y="494.1" width="24.099999999999966" height="15.5" rx="2.5" fill="#4caf50"/>
<text x="387.65" y="505.3" font-size="12" fill="#fff" text-anchor="middle" font-weight="bold" textLength="21" lengthAdjust="spacingAndGlyphs" >Bull</text>
<rect x="495.5" y="491.5" width="24.200000000000045" height="16.5" rx="2.5" fill="#4caf50"/>
<text x="507.6" y="503.7" font-size="12" fill="#fff" text-anchor="middle" font-weight="bold" textLength="21" lengthAdjust="spacingAndGlyphs" >Bull</text>
<rect x="11" y="407.5" width="1054" height="67.2" fill="rgba(33,150,243,0.1)"/>
<line x1="10" y1="407.5" x2="1065" y2="407.5" stroke="#787b86" stroke-width="1" stroke-dasharray="1 2"/>
<line x1="10" y1="441.5" x2="1065" y2="441.5" stroke="#787b86" stroke-width="1" stroke-dasharray="1 2"/>
<line x1="10" y1="474.5" x2="1065" y2="474.5" stroke="#787b86" stroke-width="1" stroke-dasharray="1 2"/>
<polyline points="11.0,466.3 13.1,470.0 17.9,445.1 25.7,422.7 32.3,417.5 36.8,459.5 41.5,440.3 48.8,455.6 55.9,478.4 65.1,488.4 70.9,481.8 75.1,472.6 79.6,416.2 84.8,397.8 89.5,407.0 99.2,458.2 104.0,453.7 112.9,412.8 118.9,409.6 125.5,443.7 132.8,480.5 137.3,481.8 143.1,404.4 146.5,443.7 151.7,441.9 161.7,450.3 167.0,443.7 170.6,427.5 175.9,425.9 181.1,434.6 185.3,432.7 190.6,441.1 196.9,425.4 203.7,407.0 210.0,390.5 216.0,386.0 223.7,381.5 229.2,420.1 238.9,467.4 247.5,443.2 252.8,468.7 258.0,482.6 262.5,471.3 267.2,473.9 271.9,469.2 276.4,430.1 281.6,429.6 286.9,443.7 291.4,462.1 300.8,475.2 305.8,470.5 310.5,486.3 315.2,493.6 321.0,496.8 326.2,501.0 331.0,504.6 336.7,506.2 343.3,506.7 348.6,481.8 353.8,485.7 359.1,489.1 363.0,462.1 368.2,447.9 373.0,455.6 378.7,475.2 383.5,492.3 386.6,492.8 391.9,459.0 397.6,443.7 402.4,426.7 407.1,410.1 412.3,405.7 416.8,403.8 421.3,403.8 426.0,430.6 430.7,439.3 435.2,409.6 439.6,399.6 444.9,406.2 449.6,435.9 454.9,484.4 458.8,493.6 464.0,480.5 468.8,456.9 473.8,442.4 479.3,438.0 483.2,451.1 487.7,455.8 492.9,450.3 497.4,458.2 502.1,472.1 506.8,488.4 511.3,468.7 516.5,423.3 522.3,420.9 527.0,435.3 532.3,424.8 535.7,418.8 540.9,425.9 548.0,457.4 554.6,482.6 560.4,487.0 565.1,485.2 569.8,480.0 574.3,481.3 578.7,494.9 584.0,499.4 588.7,494.1 594.0,433.8 603.7,404.9" fill="none" stroke="#2962ff" stroke-width="2.2" stroke-linejoin="round" stroke-linecap="round" />
<text x="1074.87" y="377.7" font-size="12" fill="#131722" text-anchor="start" textLength="35.88" lengthAdjust="spacingAndGlyphs" >100.00</text>
<text x="1074.87" y="411.5" font-size="12" fill="#131722" text-anchor="start" >75.00</text>
<text x="1074.87" y="445" font-size="12" fill="#131722" text-anchor="start" >50.00</text>
<text x="1074.87" y="478.5" font-size="12" fill="#131722" text-anchor="start" >25.00</text>
<text x="1074.87" y="511.8" font-size="12" fill="#131722" text-anchor="start" >0.00</text>
<text x="13" y="537.5" font-size="12" fill="#131722" text-anchor="middle" >9</text>
<text x="128.5" y="537.5" font-size="12" fill="#131722" text-anchor="middle" >13</text>
<text x="215.5" y="537.5" font-size="12" fill="#131722" text-anchor="middle" >16</text>
<text x="330.5" y="537.5" font-size="12" fill="#131722" text-anchor="middle" >20</text>
<text x="416.5" y="537.5" font-size="12" fill="#131722" text-anchor="middle" >23</text>
<text x="531.5" y="537.5" font-size="12" fill="#131722" text-anchor="middle" >27</text>
<text x="647" y="537.5" font-size="12" fill="#131722" text-anchor="middle" >Oct</text>
<text x="733" y="537.5" font-size="12" fill="#131722" text-anchor="middle" >4</text>
<text x="819.5" y="537.5" font-size="12" fill="#131722" text-anchor="middle" >7</text>
<text x="934.6" y="537.5" font-size="12" fill="#131722" text-anchor="middle" >11</text>
<text x="1021" y="537.5" font-size="12" fill="#131722" text-anchor="middle" >14</text>
<g fill="#131722"><path d="M10,560.2 H18.4 V570 H13.7 V564.5 H10 Z"/><circle cx="21.7" cy="562.4" r="2.1"/><path d="M25,560.2 H29.4 L25.6,570 H21 Z"/></g>
<text x="33.56" y="569.7" font-size="13" fill="#3a3e4a" text-anchor="start" textLength="69.89" lengthAdjust="spacingAndGlyphs" >TradingView</text>
</svg></body></html>
